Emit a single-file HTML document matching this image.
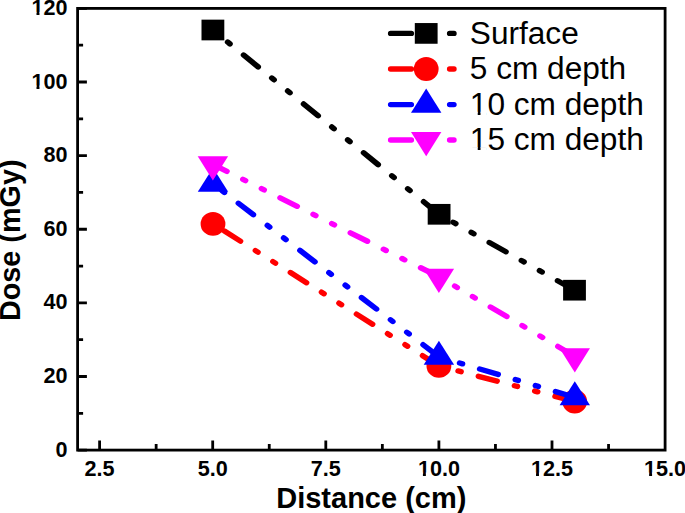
<!DOCTYPE html>
<html><head><meta charset="utf-8"><style>
html,body{margin:0;padding:0;background:#fff;}
svg{display:block;}
.tb{font-family:"Liberation Sans",sans-serif;font-weight:bold;font-size:21.6px;}
.at{font-family:"Liberation Sans",sans-serif;font-weight:bold;font-size:29.0px;}
.lg{font-family:"Liberation Sans",sans-serif;font-size:31px;}
</style></head><body>
<svg width="685" height="513" viewBox="0 0 685 513">
<rect width="685" height="513" fill="#fff"/>
<rect x="77.6" y="8.4" width="587.50" height="441.70" fill="none" stroke="#000" stroke-width="2.8"/>
<path d="M77.60 450.10h9.3 M77.60 413.29h5.5 M77.60 376.48h9.3 M77.60 339.68h5.5 M77.60 302.87h9.3 M77.60 266.06h5.5 M77.60 229.25h9.3 M77.60 192.44h5.5 M77.60 155.63h9.3 M77.60 118.82h5.5 M77.60 82.02h9.3 M77.60 45.21h5.5 M77.60 8.40h9.3 M99.60 450.10v-9.65 M156.15 450.10v-6.0 M212.70 450.10v-9.65 M269.25 450.10v-6.0 M325.80 450.10v-9.65 M382.35 450.10v-6.0 M438.90 450.10v-9.65 M495.45 450.10v-6.0 M552.00 450.10v-9.65 M608.55 450.10v-6.0" stroke="#000" stroke-width="2.8" fill="none"/>
<text class="tb" x="0" y="0" text-anchor="end" transform="translate(67.50,456.70) scale(1.0,1)">0</text>
<text class="tb" x="0" y="0" text-anchor="end" transform="translate(67.50,383.08) scale(1.0,1)">20</text>
<text class="tb" x="0" y="0" text-anchor="end" transform="translate(67.50,309.47) scale(1.0,1)">40</text>
<text class="tb" x="0" y="0" text-anchor="end" transform="translate(67.50,235.85) scale(1.0,1)">60</text>
<text class="tb" x="0" y="0" text-anchor="end" transform="translate(67.50,162.23) scale(1.0,1)">80</text>
<text class="tb" x="0" y="0" text-anchor="end" transform="translate(67.50,88.62) scale(1.0,1)">100</text>
<text class="tb" x="0" y="0" text-anchor="end" transform="translate(67.50,15.00) scale(1.0,1)">120</text>
<text class="tb" x="0" y="0" text-anchor="middle" transform="translate(99.60,475.60) scale(1.0,1)">2.5</text>
<text class="tb" x="0" y="0" text-anchor="middle" transform="translate(212.70,475.60) scale(1.0,1)">5.0</text>
<text class="tb" x="0" y="0" text-anchor="middle" transform="translate(325.80,475.60) scale(1.0,1)">7.5</text>
<text class="tb" x="0" y="0" text-anchor="middle" transform="translate(438.90,475.60) scale(1.0,1)">10.0</text>
<text class="tb" x="0" y="0" text-anchor="middle" transform="translate(552.00,475.60) scale(1.0,1)">12.5</text>
<text class="tb" x="0" y="0" text-anchor="middle" transform="translate(665.10,475.60) scale(1.0,1)">15.0</text>
<text class="at" x="0" y="0" text-anchor="middle" transform="translate(371.3,507.5) scale(1.0,1)">Distance (cm)</text>
<text class="at" x="0" y="0" text-anchor="middle" transform="translate(20.1,240.3) rotate(-90)" style="font-size:28.8px">Dose (mGy)</text>
<g transform="scale(1.07,1)" fill="none" stroke="#000" stroke-width="5.4" stroke-linecap="round" stroke-dasharray="18.0 17.0 2.7 17.0 2.7 17.0"><path d="M198.972 30.00L410.374 214.30" stroke-dashoffset="36.32"/><path d="M410.374 214.30L536.916 290.20" stroke-dashoffset="19.61"/></g>
<rect x="201.50" y="19.65" width="22.8" height="20.7" fill="#000"/>
<rect x="427.70" y="203.95" width="22.8" height="20.7" fill="#000"/>
<rect x="563.10" y="279.85" width="22.8" height="20.7" fill="#000"/>
<g transform="scale(1.07,1)" fill="none" stroke="#f00" stroke-width="5.4" stroke-linecap="round" stroke-dasharray="18.0 17.0 2.7 17.0 2.7 17.0"><path d="M199.065 223.90L410.187 365.90" stroke-dashoffset="61.52"/><path d="M410.187 365.90L537.103 401.50" stroke-dashoffset="35.98"/></g>
<ellipse cx="213.00" cy="223.90" rx="12.4" ry="11.95" fill="#f00"/>
<ellipse cx="438.90" cy="365.90" rx="12.4" ry="11.95" fill="#f00"/>
<ellipse cx="574.70" cy="401.50" rx="12.4" ry="11.95" fill="#f00"/>
<g transform="scale(1.07,1)" fill="none" stroke="#00f" stroke-width="5.4" stroke-linecap="round" stroke-dasharray="18.0 17.0 2.7 17.0 2.7 17.0"><path d="M199.065 183.80L410.187 356.80" stroke-dashoffset="43.69"/><path d="M410.187 356.80L537.196 397.30" stroke-dashoffset="34.33"/></g>
<path d="M213.00 167.67L228.20 191.87L197.80 191.87Z" fill="#00f"/>
<path d="M438.90 340.67L454.10 364.87L423.70 364.87Z" fill="#00f"/>
<path d="M574.80 381.17L590.00 405.37L559.60 405.37Z" fill="#00f"/>
<g transform="scale(1.07,1)" fill="none" stroke="#f0f" stroke-width="5.4" stroke-linecap="round" stroke-dasharray="18.0 17.0 2.7 17.0 2.7 17.0"><path d="M198.972 164.40L410.187 276.80" stroke-dashoffset="3.21"/><path d="M410.187 276.80L537.196 356.30" stroke-dashoffset="17.54"/></g>
<path d="M212.90 180.53L228.10 156.33L197.70 156.33Z" fill="#f0f"/>
<path d="M438.90 292.93L454.10 268.73L423.70 268.73Z" fill="#f0f"/>
<path d="M574.80 372.43L590.00 348.23L559.60 348.23Z" fill="#f0f"/>
<path d="M390.6 33.4H411.4 M449.6 33.4H454" stroke="#000" stroke-width="5.4" stroke-linecap="round" fill="none"/>
<rect x="414.80" y="23.05" width="22.8" height="20.7" fill="#000"/>
<text class="lg" x="0" y="0" transform="translate(469.8,43.70) scale(1.02,1)">Surface</text>
<path d="M390.6 69.0H411.4 M449.6 69.0H454" stroke="#f00" stroke-width="5.4" stroke-linecap="round" fill="none"/>
<ellipse cx="426.20" cy="69.00" rx="12.4" ry="11.95" fill="#f00"/>
<text class="lg" x="0" y="0" transform="translate(469.8,79.30) scale(1.02,1)">5 cm depth</text>
<path d="M390.6 104.6H411.4 M449.6 104.6H454" stroke="#00f" stroke-width="5.4" stroke-linecap="round" fill="none"/>
<path d="M426.20 88.47L441.40 112.67L411.00 112.67Z" fill="#00f"/>
<text class="lg" x="0" y="0" transform="translate(469.8,114.90) scale(1.02,1)">10 cm depth</text>
<path d="M390.6 140.0H411.4 M449.6 140.0H454" stroke="#f0f" stroke-width="5.4" stroke-linecap="round" fill="none"/>
<path d="M426.20 156.13L441.40 131.93L411.00 131.93Z" fill="#f0f"/>
<text class="lg" x="0" y="0" transform="translate(469.8,150.30) scale(1.02,1)">15 cm depth</text>
<rect x="31.33" y="85.52" width="5.17" height="4.30" fill="#fff"/>
<rect x="39.46" y="85.52" width="4.09" height="4.30" fill="#fff"/>
<rect x="31.33" y="11.90" width="5.17" height="4.30" fill="#fff"/>
<rect x="39.46" y="11.90" width="4.09" height="4.30" fill="#fff"/>
<rect x="417.74" y="472.50" width="5.17" height="4.30" fill="#fff"/>
<rect x="425.88" y="472.50" width="4.09" height="4.30" fill="#fff"/>
<rect x="530.84" y="472.50" width="5.17" height="4.30" fill="#fff"/>
<rect x="538.98" y="472.50" width="4.09" height="4.30" fill="#fff"/>
<rect x="643.94" y="472.50" width="5.17" height="4.30" fill="#fff"/>
<rect x="652.08" y="472.50" width="4.09" height="4.30" fill="#fff"/>
<rect x="470.67" y="111.77" width="7.06" height="4.33" fill="#fff"/>
<rect x="480.52" y="111.77" width="5.99" height="4.33" fill="#fff"/>
<rect x="470.67" y="147.17" width="7.06" height="4.33" fill="#fff"/>
<rect x="480.52" y="147.17" width="5.99" height="4.33" fill="#fff"/>
</svg>
</body></html>
